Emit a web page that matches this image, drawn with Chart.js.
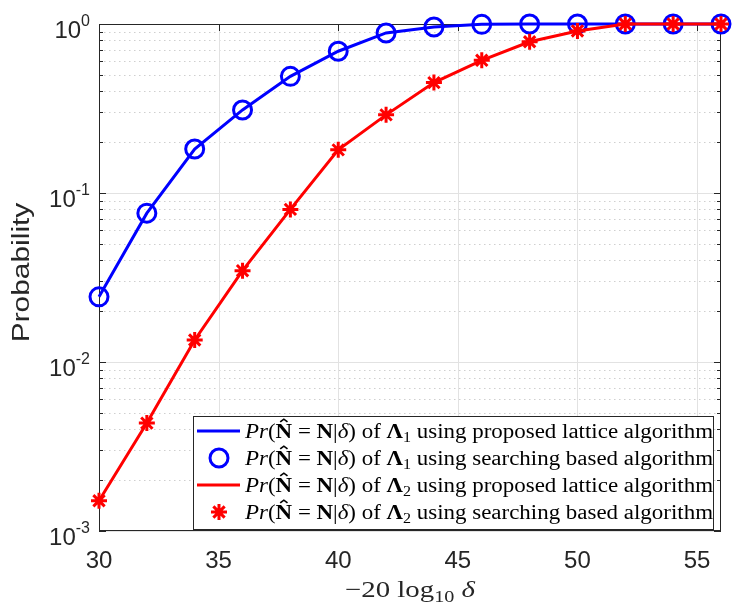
<!DOCTYPE html>
<html>
<head>
<meta charset="utf-8">
<script src="https://cdn.jsdelivr.net/npm/chart.js@4.4.0/dist/chart.umd.min.js"></script>
<style>
  html, body { margin: 0; padding: 0; background: #fff; }
</style>
</head>
<body>
<canvas id="myChart" width="733" height="604"></canvas>
<script>
// values
const xValues = [30, 32, 34, 36, 38, 40, 42, 44, 46, 48, 50, 52, 54, 56];
const lambda1 = [0.0243, 0.076, 0.182, 0.31, 0.49, 0.69, 0.885, 0.96, 0.995, 1, 1, 1, 1, 1];
const lambda2 = [0.00151, 0.00435, 0.0135, 0.0347, 0.080, 0.18, 0.29, 0.45, 0.61, 0.785, 0.91, 1, 1, 1];
const xTicks = [30, 35, 40, 45, 50, 55];
const yDecades = [-3, -2, -1, 0];
const yMinorSteps = [2, 3, 4, 5, 6, 7, 8, 9];
const legendLambda = ['1', '1', '2', '2'];
const legendMethod = [
  'using proposed lattice algorithm',
  'using searching based algorithm',
  'using proposed lattice algorithm',
  'using searching based algorithm'
];

const BLUE = '#0000ff';
const RED = '#ff0000';
const AXIS = '#262626';
const SERIF = '"Liberation Serif", "DejaVu Serif", serif';
const SANS = '"Liberation Sans", Arial, sans-serif';

const toPoints = (ys) => xValues.map((x, i) => ({ x: x, y: ys[i] }));

// mixed-font text, LaTeX style
function drawRich(ctx, segs, x, base, size, draw) {
  let cx = x;
  segs.forEach(s => {
    const fs = s.sub ? size * 0.7 : size;
    ctx.font = (s.f || '') + ' ' + fs + 'px ' + SERIF;
    const w = ctx.measureText(s.t).width;
    if (draw) {
      const by = s.sub ? base + size * 0.22 : base;
      ctx.fillText(s.t, cx, by);
      if (s.hat) {
        const mid = cx + w / 2, top = base - size * 0.68 - size * 0.08;
        ctx.save();
        ctx.lineWidth = size * 0.07;
        ctx.beginPath();
        ctx.moveTo(mid - w * 0.22, top);
        ctx.lineTo(mid, top - size * 0.13);
        ctx.lineTo(mid + w * 0.22, top);
        ctx.stroke();
        ctx.restore();
      }
    }
    cx += w;
  });
  return cx - x;
}

// draw rich text stretched horizontally to a given width
function drawRichFit(ctx, segs, x, base, size, width) {
  const w = drawRich(ctx, segs, 0, 0, size, false);
  ctx.save();
  ctx.translate(x, base);
  ctx.scale(width / w, 1);
  drawRich(ctx, segs, 0, 0, size, true);
  ctx.restore();
}

function legendSegs(i) {
  return [
    { t: 'Pr', f: 'italic' }, { t: '(' }, { t: 'N', f: 'bold', hat: true }, { t: ' = ' },
    { t: 'N', f: 'bold' }, { t: '|' }, { t: 'δ', f: 'italic' }, { t: ')' },
    { t: ' of ' }, { t: 'Λ', f: 'bold' }, { t: legendLambda[i], sub: true },
    { t: ' ' + legendMethod[i] }
  ];
}

const matlabAxes = {
  id: 'matlabAxes',
  beforeDatasetsDraw(chart) {
    const { ctx, chartArea: a, scales: { x, y } } = chart;
    ctx.save();
    ctx.lineWidth = 1;
    // minor grid (dotted)
    ctx.strokeStyle = '#cfcfcf';
    ctx.setLineDash([1.5, 3.5]);
    yDecades.slice(0, -1).forEach(d => {
      yMinorSteps.forEach(m => {
        const py = Math.round(y.getPixelForValue(m * Math.pow(10, d))) + 0.5;
        ctx.beginPath(); ctx.moveTo(a.left, py); ctx.lineTo(a.right, py); ctx.stroke();
      });
    });
    // major grid
    ctx.setLineDash([]);
    ctx.strokeStyle = '#e2e2e2';
    yDecades.forEach(d => {
      const py = Math.round(y.getPixelForValue(Math.pow(10, d))) + 0.5;
      ctx.beginPath(); ctx.moveTo(a.left, py); ctx.lineTo(a.right, py); ctx.stroke();
    });
    xTicks.forEach(v => {
      const px = Math.round(x.getPixelForValue(v)) + 0.5;
      ctx.beginPath(); ctx.moveTo(px, a.top); ctx.lineTo(px, a.bottom); ctx.stroke();
    });
    // box + inward ticks
    ctx.strokeStyle = AXIS;
    ctx.strokeRect(Math.round(a.left) + 0.5, Math.round(a.top) + 0.5,
      Math.round(a.width) - 1, Math.round(a.height) - 1);
    const tick = (x1, y1, x2, y2) => { ctx.beginPath(); ctx.moveTo(x1, y1); ctx.lineTo(x2, y2); ctx.stroke(); };
    yDecades.forEach(d => {
      const py = Math.round(y.getPixelForValue(Math.pow(10, d))) + 0.5;
      tick(a.left, py, a.left + 7, py);
      tick(a.right, py, a.right - 7, py);
      if (d === yDecades[yDecades.length - 1]) return;
      yMinorSteps.forEach(m => {
        const pm = Math.round(y.getPixelForValue(m * Math.pow(10, d))) + 0.5;
        tick(a.left, pm, a.left + 4, pm);
        tick(a.right, pm, a.right - 4, pm);
      });
    });
    xTicks.forEach(v => {
      const px = Math.round(x.getPixelForValue(v)) + 0.5;
      tick(px, a.bottom, px, a.bottom - 7);
      tick(px, a.top, px, a.top + 7);
    });
    ctx.restore();
  },
  afterDatasetsDraw(chart) {
    const { ctx, chartArea: a, scales: { y } } = chart;
    ctx.save();
    ctx.fillStyle = AXIS;
    // y tick labels 10^n
    ctx.textBaseline = 'alphabetic';
    ctx.textAlign = 'left';
    yDecades.forEach(d => {
      const py = y.getPixelForValue(Math.pow(10, d));
      const sup = String(d);
      ctx.font = '16px ' + SANS;
      const ws = ctx.measureText(sup).width;
      ctx.font = '24px ' + SANS;
      const wb = ctx.measureText('10').width;
      const right = a.left - 9;
      ctx.fillText('10', right - ws - wb, py + 14);
      ctx.font = '16px ' + SANS;
      ctx.fillText(sup, right - ws, py + 2);
    });
    // y axis title
    ctx.save();
    ctx.translate(22.5, (a.top + a.bottom) / 2 - 5);
    ctx.rotate(-Math.PI / 2);
    ctx.scale(1.3, 1);
    ctx.font = '23px ' + SANS;
    ctx.textAlign = 'center';
    ctx.textBaseline = 'middle';
    ctx.fillText('Probability', 0, 0);
    ctx.restore();
    // x axis title
    const xt = [{ t: '\u2212' }, { t: '20 log' }, { t: '10', sub: true }, { t: ' ' }, { t: 'δ', f: 'italic' }];
    drawRichFit(ctx, xt, (a.left + a.right) / 2 - 65, 597, 23, 130);
    // legend
    const bx = 193, by = 416, bw = a.right - 8 - bx, bh = a.bottom - 2 - by;
    ctx.fillStyle = '#fff';
    ctx.fillRect(bx, by, bw, bh);
    ctx.strokeStyle = AXIS;
    ctx.lineWidth = 1;
    ctx.strokeRect(bx + 0.5, by + 0.5, bw, bh);
    const fs = 20.5;
    const w0 = drawRich(ctx, legendSegs(0), 0, 0, fs, false);
    const sx = 468 / w0;
    const rows = [431, 458, 485, 512];
    chart.data.datasets.forEach((ds, i) => {
      const cy = rows[i];
      if (ds.showLine) {
        ctx.strokeStyle = ds.borderColor;
        ctx.lineWidth = ds.borderWidth;
        ctx.beginPath(); ctx.moveTo(bx + 4, cy); ctx.lineTo(bx + 47, cy); ctx.stroke();
      } else {
        ctx.strokeStyle = ds.pointBorderColor;
        ctx.fillStyle = ds.pointBackgroundColor;
        Chart.helpers.drawPoint(ctx, {
          pointStyle: ds.pointStyle, radius: ds.pointRadius,
          borderWidth: ds.pointBorderWidth, rotation: 0
        }, bx + 26, cy);
      }
      ctx.fillStyle = '#000';
      ctx.strokeStyle = '#000';
      const wi = drawRich(ctx, legendSegs(i), 0, 0, fs, false);
      drawRichFit(ctx, legendSegs(i), bx + 52, cy + 6.5, fs, wi * sx);
    });
    ctx.restore();
  }
};

new Chart(document.getElementById('myChart'), {
  type: 'scatter',
  data: {
    datasets: [
      {
        label: 'Pr(N̂ = N|δ) of Λ1 using proposed lattice algorithm',
        data: toPoints(lambda1), showLine: true, borderColor: BLUE, borderWidth: 3,
        pointRadius: 0, clip: false, order: 4
      },
      {
        label: 'Pr(N̂ = N|δ) of Λ1 using searching based algorithm',
        data: toPoints(lambda1), showLine: false, pointStyle: 'circle', pointRadius: 9,
        pointBorderWidth: 3, pointBorderColor: BLUE, pointBackgroundColor: 'rgba(0,0,0,0)',
        clip: false, order: 3
      },
      {
        label: 'Pr(N̂ = N|δ) of Λ2 using proposed lattice algorithm',
        data: toPoints(lambda2), showLine: true, borderColor: RED, borderWidth: 3,
        pointRadius: 0, clip: false, order: 2
      },
      {
        label: 'Pr(N̂ = N|δ) of Λ2 using searching based algorithm',
        data: toPoints(lambda2), showLine: false, pointStyle: 'star', pointRadius: 8,
        pointBorderWidth: 3, pointBorderColor: RED, pointBackgroundColor: RED,
        clip: false, order: 1
      }
    ]
  },
  options: {
    responsive: false,
    animation: false,
    layout: { padding: { top: 24, right: 9, left: 0, bottom: 0 } },
    plugins: { legend: { display: false }, tooltip: { enabled: false } },
    scales: {
      x: {
        type: 'linear', min: 30, max: 56,
        afterBuildTicks: s => { s.ticks = xTicks.map(v => ({ value: v })); },
        afterFit: s => { s.height = 73; },
        grid: { display: false, drawTicks: false },
        border: { display: false },
        ticks: {
          font: { family: SANS, size: 24 }, color: AXIS, padding: 16,
          maxRotation: 0, autoSkip: false
        }
      },
      y: {
        type: 'logarithmic', min: 0.001, max: 1,
        afterBuildTicks: s => {
          const t = [];
          yDecades.forEach(d => {
            t.push({ value: Math.pow(10, d), major: true });
            if (d < yDecades[yDecades.length - 1]) {
              yMinorSteps.forEach(m => t.push({ value: m * Math.pow(10, d) }));
            }
          });
          s.ticks = t;
        },
        afterFit: s => { s.width = 99; },
        grid: { display: false, drawTicks: false },
        border: { display: false },
        ticks: { display: false }
      }
    }
  },
  plugins: [matlabAxes]
});
</script>
</body>
</html>
